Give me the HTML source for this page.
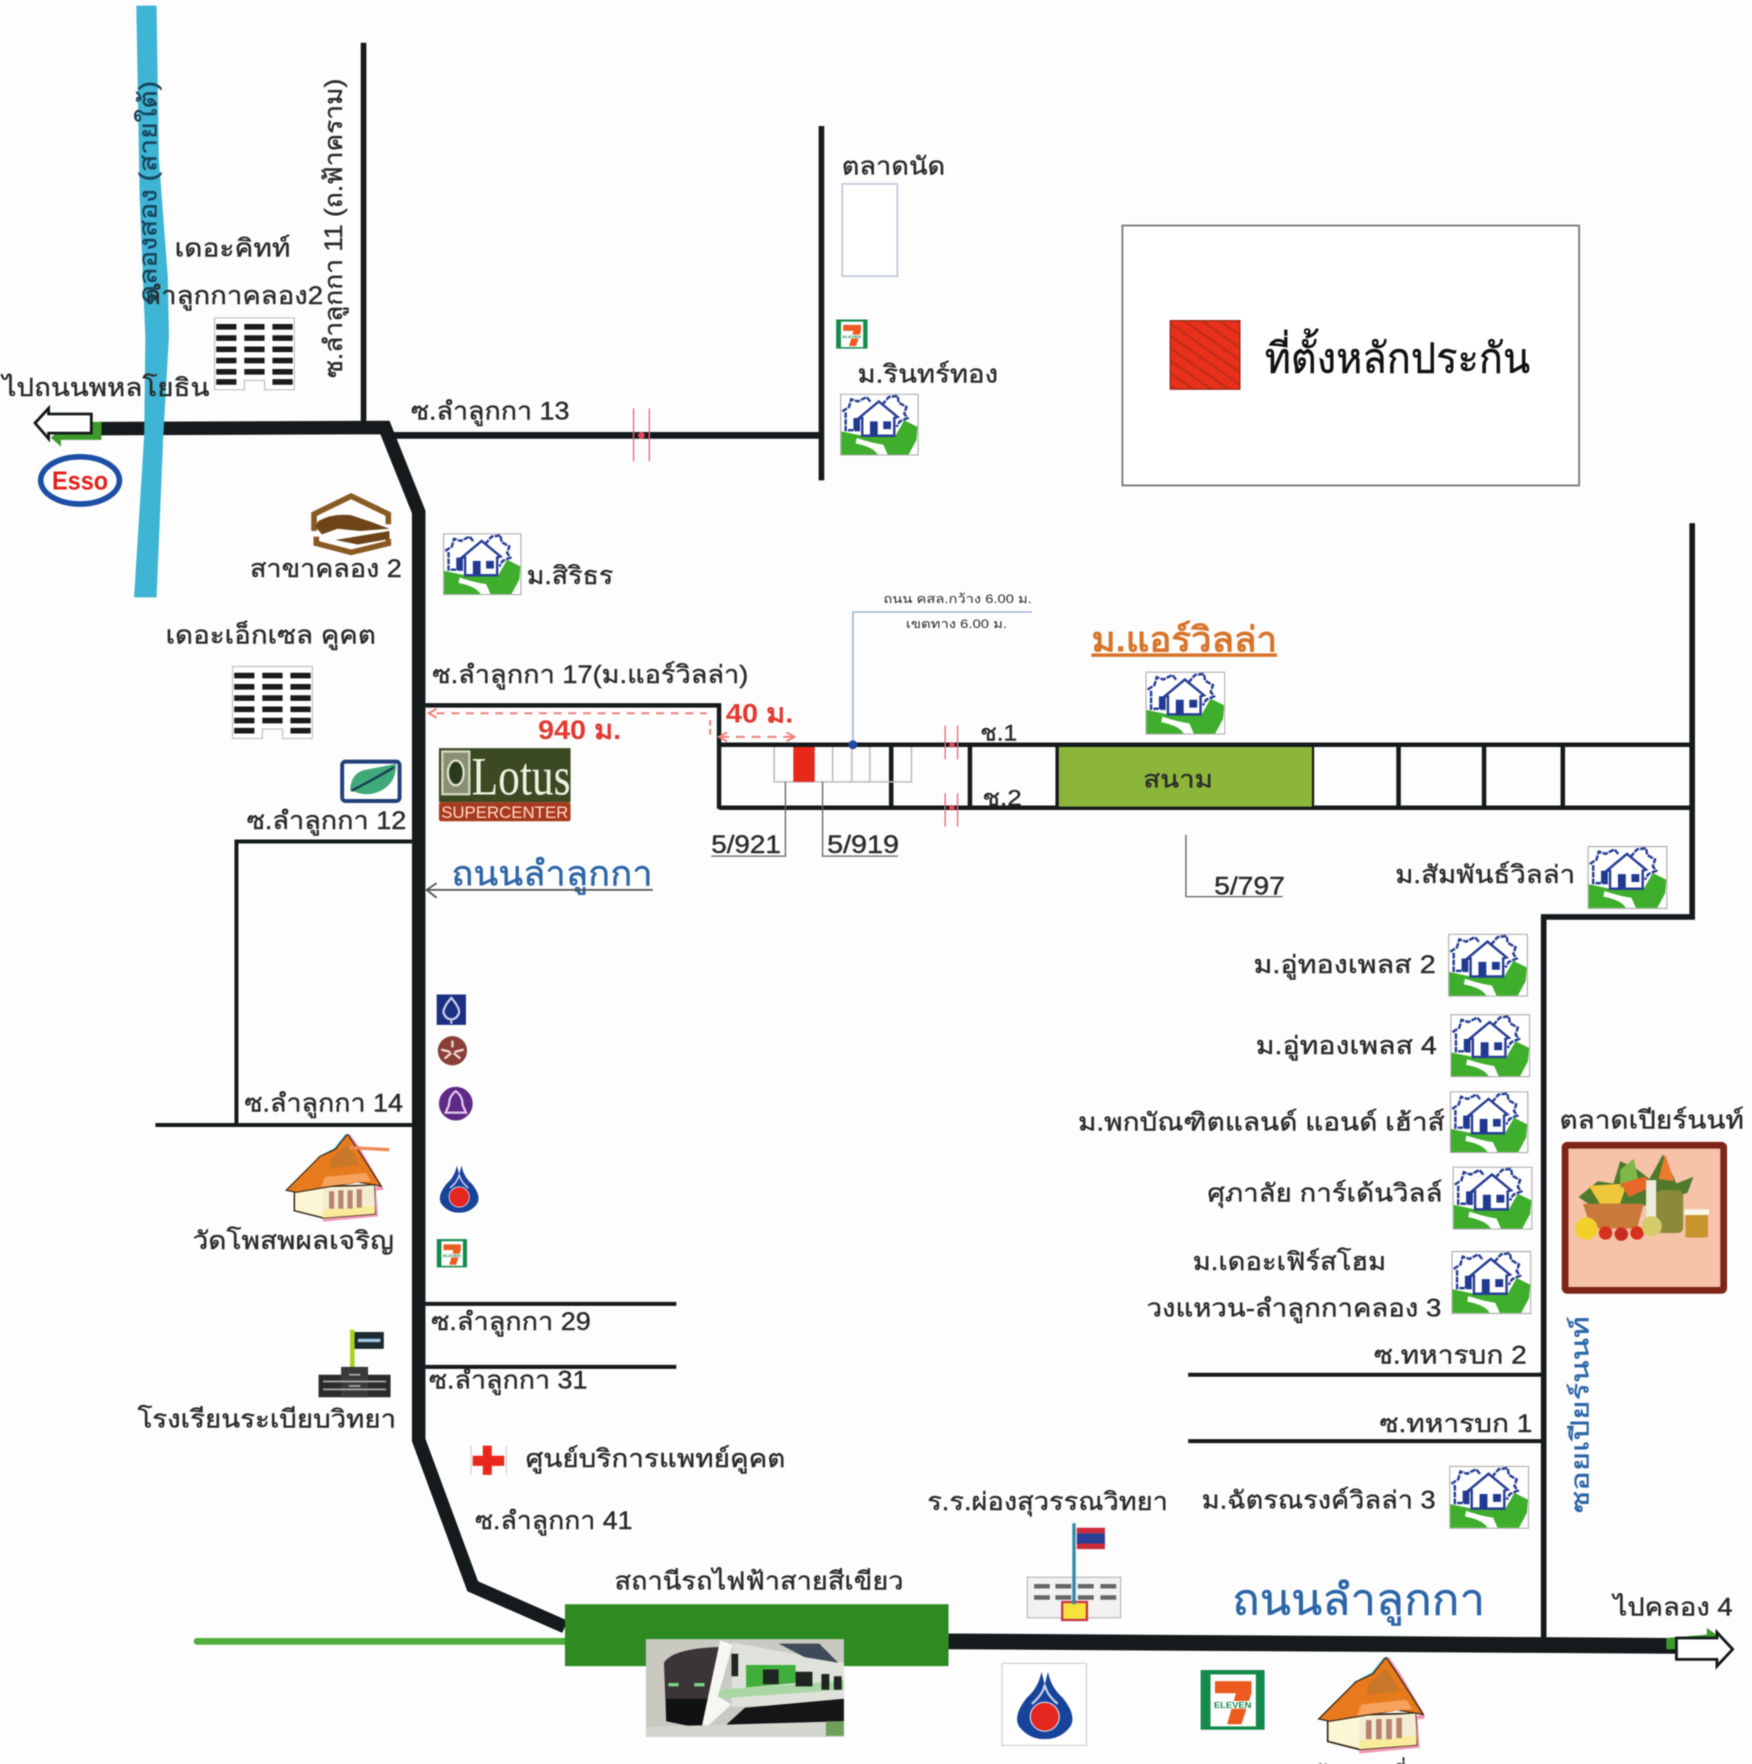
<!DOCTYPE html>
<html lang="th">
<head>
<meta charset="utf-8">
<title>แผนที่ตั้งหลักประกัน</title>
<style>
html,body{margin:0;padding:0;background:#fdfdfd;width:1752px;height:1764px;overflow:hidden}
svg{display:block;filter:blur(.55px)}
text{font-family:"Liberation Sans","DejaVu Sans","Noto Sans CJK SC","WenQuanYi Zen Hei",sans-serif;fill:#2b2b2b;stroke:#2b2b2b;stroke-width:.35px;font-size:22px}
text.b{fill:#2c66a8;stroke:#2c66a8}
text.n{stroke:none}
</style>
</head>
<body>
<svg xmlns="http://www.w3.org/2000/svg" width="1752" height="1764" viewBox="0 0 1557 1568">
<defs>
<pattern id="hatch" width="9" height="9" patternUnits="userSpaceOnUse" patternTransform="rotate(-55)">
<rect width="9" height="9" fill="#e8301a"/><rect width="2" height="9" fill="#c22c1a"/>
</pattern>
<symbol id="house" viewBox="0 0 71 56">
<rect x="0.5" y="0.5" width="70" height="55" fill="#fff" stroke="#a9a9a9"/>
<path d="M1 34 L20 38 L50 38 L58 24 L70 30 L69 42 L62 55 L1 55Z" fill="#3fae2c"/>
<path d="M15 40 Q30 45 39 46 L43 55 L34 55 Q30 48 14 45Z" fill="#fff"/>
<path d="M2 16 L8 12 L10 5 L16 7 L24 3 L28 8 M5 17 V33 H18" fill="none" stroke="#2a3f96" stroke-width="2.2" stroke-dasharray="5 1"/>
<path d="M38 10 L44 3 L52 2 L53 8 L60 12 L58 18 L61 22 L54 25 L51 30" fill="none" stroke="#2a3f96" stroke-width="2.2" stroke-dasharray="5 1"/>
<path d="M20 38 V22 L17 22 L35 7 L52 21 L49 22 V38Z" fill="#fff" stroke="#2a3f96" stroke-width="2.2"/>
<rect x="12" y="22" width="6" height="11" fill="#1f3a90"/>
<rect x="27" y="25" width="7" height="13" fill="#1f3a90"/><rect x="39" y="25" width="7" height="7" fill="#1f3a90"/>
</symbol>
<symbol id="bldg" viewBox="0 0 72 65">
<path d="M0.5 .5H71.5V64.5H45V56H27V64.5H.5Z" fill="#fff" stroke="#bbb"/>
<g fill="#1b1b1b">
<rect x="2" y="6" width="18" height="5"/><rect x="27" y="6" width="18" height="5"/><rect x="52" y="6" width="18" height="5"/>
<rect x="2" y="16" width="18" height="5"/><rect x="27" y="16" width="18" height="5"/><rect x="52" y="16" width="18" height="5"/>
<rect x="2" y="26" width="18" height="5"/><rect x="27" y="26" width="18" height="5"/><rect x="52" y="26" width="18" height="5"/>
<rect x="2" y="36" width="18" height="5"/><rect x="27" y="36" width="18" height="5"/><rect x="52" y="36" width="18" height="5"/>
<rect x="2" y="46" width="18" height="5"/><rect x="27" y="46" width="18" height="5"/><rect x="52" y="46" width="18" height="5"/>
<rect x="2" y="55" width="18" height="5"/><rect x="52" y="55" width="18" height="5"/>
</g>
</symbol>
<symbol id="temple" viewBox="0 0 96 88">
<path d="M8 54 L35 23 L50 15 L61 1" fill="none" stroke="#5ec8e8" stroke-width="3"/>
<path d="M63 1 L73 15 L95 53 L88 54 L90 79 L38 84" fill="none" stroke="#f29ab4" stroke-width="3.5"/>
<path d="M10 52 L88 50 L89 78 L38 82 L10 75Z" fill="#fdf6d4" stroke="#3a2a1a" stroke-width="1.5"/>
<path d="M38 54 L88 50 L89 70 L38 74Z" fill="#f4ecd2"/>
<path d="M38 74 L89 70 L89 78 L38 82Z" fill="#f8eb9a"/>
<g fill="#b8836e"><rect x="44" y="56" width="5" height="17"/><rect x="53" y="55" width="5" height="18"/><rect x="62" y="55" width="5" height="18"/><rect x="71" y="54" width="5" height="18"/></g>
<path d="M2 55 L35 22 L50 15 L62 0 L72 15 L95 51 L72 47 L36 53 L12 57Z" fill="#e87a1e" stroke="#3a2a1a" stroke-width="1.2"/>
<path d="M46 24 L62 10 L74 30 L45 34Z" fill="#c9772a"/>
<path d="M40 42 L80 38 L85 46 L36 52Z" fill="#f6a25a"/>
</symbol>
<symbol id="seven" viewBox="0 0 58 54">
<rect width="58" height="54" fill="#138a4b"/>
<rect x="9" y="4" width="41" height="47" fill="#fff"/>
<path d="M13 10H46V21L37 49H24L32 21H13Z" fill="#ec5a20"/>
<rect x="10" y="28" width="38" height="7" fill="#fff"/>
<text class="n" x="12" y="34.5" style="font-size:7.5px;font-weight:bold;fill:#138a4b" textLength="34" lengthAdjust="spacingAndGlyphs">ELEVEN</text>
</symbol>
<symbol id="ptt" viewBox="0 0 38 42">
<path d="M17 0 Q15 10 8 16 Q-1 27 3 34 Q9 42 19 42 Q29 42 35 34 Q39 27 30 16 Q23 10 21 0 L19 8Z" fill="#18439a"/>
<path d="M19 8 Q18 14 11 20 M19 8 Q20 14 27 20" fill="none" stroke="#c7d0ee" stroke-width="1.4"/>
<circle cx="19" cy="28" r="9" fill="#e5261f" stroke="#c7d0ee" stroke-width=".8"/>
</symbol>
</defs>

<rect width="1557" height="1568" fill="#fdfdfd"/>

<!-- roads -->
<g fill="none" stroke="#151a1c" stroke-linejoin="miter">
<path d="M88 381 L342 380 L372 455 L372 1280 L420 1410 L502 1446" stroke-width="12"/>
<path d="M843 1459 L1490 1463" stroke-width="14"/>
<path d="M323 38 V375" stroke-width="5"/>
<path d="M345 387 H728" stroke-width="6"/>
<path d="M730 112 V427" stroke-width="5"/>
<path d="M378 627 H639 V719" stroke-width="4"/>
<path d="M639 662 H1503" stroke-width="4"/>
<path d="M639 718 H1503" stroke-width="4"/>
<path d="M792 662 V718 M862 662 V718 M940 662 V718 M1166 662 V718 M1243 662 V718 M1319 662 V718 M1389 662 V718" stroke-width="4"/>
<path d="M1504 465 V815 H1372 V1456" stroke-width="5"/>
<path d="M366 748 H210 V1000 M138 1000 H366" stroke-width="3.5"/>
<path d="M378 1159 H601 M378 1215 H601" stroke-width="3.5"/>
<path d="M1056 1222 H1372 M1056 1281 H1372" stroke-width="3.5"/>
</g>

<!-- canal -->
<polygon points="121,5 139,5 141,140 149,246 150,299 145,387 139,531 119,531 128,387 129,299 124,176" fill="#3fb5d5"/>

<!-- green rail -->
<path d="M175 1459 H502" stroke="#4faf3a" stroke-width="6" stroke-linecap="round"/>
<rect x="502" y="1426" width="341" height="55" fill="#2e8b22"/>

<!-- arrows -->
<path d="M90 375 V391 L54 391 V397 L45 389 L54 382 L82 382 V375Z" fill="#3d9a2b"/>
<path d="M31 376 L43 363 V368 H81 V385 H43 V390Z" fill="#fff" stroke="#151a1c" stroke-width="2.5"/>
<path d="M1481 1466 V1456 L1517 1453 V1447 L1528 1455 L1522 1466Z" fill="#3d9a2b"/>
<path d="M1490 1456 H1526 V1451 L1540 1466 L1526 1481 V1475 H1490Z" fill="#fff" stroke="#151a1c" stroke-width="2.5"/>

<!-- red ticks -->
<g stroke="#ea6a7c" stroke-width="1.2" fill="none">
<path d="M563 363 V410 M577 363 V410"/>
<path d="M840 645 V675 M851 645 V675 M840 705 V735 M851 705 V735"/>
</g>
<circle cx="570" cy="387" r="3" fill="#e8455a"/>
<circle cx="846" cy="662" r="2.5" fill="#e8455a"/><circle cx="846" cy="718" r="2.5" fill="#e8455a"/>

<!-- legend -->
<rect x="997.5" y="200.5" width="406" height="231" fill="#fff" stroke="#777" stroke-width="1.6"/>
<rect x="1040" y="285" width="62" height="61" fill="url(#hatch)" stroke="#8f2414"/>
<text x="1124" y="331" textLength="236" lengthAdjust="spacingAndGlyphs" style="font-family:'Liberation Serif','DejaVu Sans','Noto Serif CJK SC',serif;font-size:37px;fill:#111;stroke:#111">ที่ตั้งหลักประกัน</text>

<!-- market box -->
<rect x="748.5" y="163.5" width="49" height="82" fill="#fff" stroke="#bcc8d8" stroke-width="1.5"/>

<!-- plots -->
<g stroke="#bdbdbd" stroke-width="1.4" fill="none">
<path d="M688 664 V695 H810 V664 M740 664 V695 M757 664 V695 M773 664 V695"/>
</g>
<rect x="705" y="664" width="19" height="31" fill="#e8281a"/>
<rect x="941" y="664" width="225" height="53" fill="#8cb63a"/>
<text x="1016" y="700" style="font-size:21px" textLength="62" lengthAdjust="spacingAndGlyphs">สนาม</text>

<!-- leaders -->
<g stroke="#666" stroke-width="1.2" fill="none">
<path d="M698 695 V761 H632"/>
<path d="M731 695 V761 H798"/>
<path d="M1054 742 V797 H1140"/>
</g>
<path d="M758 662 V544 H917" stroke="#8fa9cf" stroke-width="1.2" fill="none"/>
<circle cx="758" cy="662" r="4" fill="#1f4aa8"/>

<!-- red dims -->
<g stroke="#f08080" stroke-width="1.8" fill="none">
<path d="M388 634 H628" stroke-dasharray="7 6"/>
<path d="M388 630 L381 634 L388 638"/>
<path d="M631 640 V654" stroke-dasharray="5 3"/>
<path d="M640 655 H704" stroke-dasharray="8 6"/>
<path d="M646 651 L639 655 L646 659 M699 651 L706 655 L699 659"/>
</g>
<text class="n" x="478" y="657" style="font-size:24px;fill:#e23a32;font-weight:bold" textLength="74" lengthAdjust="spacingAndGlyphs">940 ม.</text>
<text class="n" x="645" y="642" style="font-size:24px;fill:#e23a32;font-weight:bold" textLength="60" lengthAdjust="spacingAndGlyphs">40 ม.</text>

<!-- icons -->
<use href="#house" x="746" y="350" width="71" height="55"/>
<use href="#house" x="393" y="474" width="71" height="55"/>
<use href="#house" x="1018" y="597" width="71" height="56"/>
<use href="#house" x="1411" y="752" width="71" height="56"/>
<use href="#house" x="1287" y="830" width="71" height="56"/>
<use href="#house" x="1289" y="901" width="71" height="57"/>
<use href="#house" x="1288" y="970" width="71" height="55"/>
<use href="#house" x="1291" y="1037" width="71" height="56"/>
<use href="#house" x="1290" y="1112" width="71" height="56"/>
<use href="#house" x="1288" y="1303" width="71" height="56"/>
<use href="#bldg" x="190" y="282" width="72" height="65"/>
<use href="#bldg" x="206" y="592" width="72" height="65"/>
<use href="#seven" x="743" y="284" width="28" height="26"/>
<use href="#seven" x="388" y="1100" width="27" height="28"/>
<use href="#seven" x="1067" y="1484" width="57" height="54"/>
<use href="#temple" x="248" y="1008" width="96" height="80"/>
<path d="M310 1020 L346 1022" stroke="#ef8a5a" stroke-width="3"/>
<use href="#temple" x="1170" y="1473" width="96" height="88"/>
<use href="#ptt" x="389" y="1036" width="38" height="42"/>

<!-- PTT boxed -->
<rect x="890.5" y="1478.5" width="75" height="73" fill="#fff" stroke="#ccc"/>
<use href="#ptt" x="901" y="1486" width="55" height="60"/>

<!-- Esso -->
<ellipse cx="71" cy="427" rx="35" ry="21" fill="#fff" stroke="#1c4fa5" stroke-width="5"/>
<text class="n" x="46" y="435" style="font-size:23px;font-weight:bold;fill:#e2231a" textLength="50" lengthAdjust="spacingAndGlyphs">Esso</text>

<!-- branch logo -->
<path d="M279 472 V457 L312 441 L345 457 V466 M345 479 V483 L312 491 L281 483 V477" fill="none" stroke="#8a5a24" stroke-width="5"/>
<path d="M283 463 Q296 456 312 458 L330 464 L346 470 L320 472 L300 470 L286 475 L280 468Z" fill="#6e4519"/>
<path d="M298 480 L346 472 V479 L318 484Z" fill="#6e4519"/>

<!-- leaf -->
<rect x="304" y="677" width="51" height="35" rx="3" fill="#fff" stroke="#23407a" stroke-width="3.5"/>
<path d="M311 702 Q312 686 326 684 L352 679 Q352 695 340 702 Q326 710 311 702Z" fill="#3fa97a"/>
<path d="M312 703 Q330 694 350 682" stroke="#163a50" stroke-width="2" fill="none"/>

<!-- Lotus -->
<rect x="390" y="665" width="117" height="48" fill="#3b4a22"/>
<rect x="390" y="713" width="117" height="17" rx="2" fill="#a83a1e"/>
<rect x="393" y="668" width="24" height="38" fill="#8a8f72" stroke="#d5d7c5" stroke-width="2"/>
<ellipse cx="405" cy="687" rx="7" ry="11" fill="#2a3a1c" stroke="#dfe1cf" stroke-width="2"/>
<text class="n" x="419" y="706" style="font-family:'Liberation Serif',serif;font-size:48px;fill:#eef0e4" textLength="88" lengthAdjust="spacingAndGlyphs">Lotus</text>
<text class="n" x="392" y="727" style="font-size:15px;fill:#ffd9c8" textLength="113" lengthAdjust="spacingAndGlyphs">SUPERCENTER</text>

<!-- banks -->
<rect x="388" y="884" width="26" height="27" fill="#1c2f80"/>
<path d="M401 887 Q408 895 408 900 Q406 906 401 906 Q396 906 394 900 Q394 895 401 887Z M401 906 V910" fill="none" stroke="#c9cdea" stroke-width="2"/>
<circle cx="402" cy="934" r="13" fill="#8a3f38"/>
<path d="M402 925 V931 M392 933 L400 935 M412 933 L404 935 M395 941 L401 936 M409 941 L403 936" stroke="#f2dcd2" stroke-width="2"/>
<circle cx="405" cy="981" r="15" fill="#5f2a86"/>
<path d="M405 970 Q411 974 411 982 L414 989 H396 L399 982 Q399 974 405 970Z" fill="#5f2a86" stroke="#e0c9ee" stroke-width="2"/>

<!-- school left -->
<rect x="311" y="1182" width="4" height="36" fill="#a4d41c"/>
<rect x="315" y="1184" width="26" height="15" fill="#1d2a30"/><rect x="318" y="1190" width="20" height="3" fill="#9fc5e8"/>
<rect x="283" y="1222" width="64" height="20" fill="#2b2b2b"/>
<rect x="303" y="1215" width="24" height="27" fill="#3a3a3a"/>
<path d="M287 1228H343M287 1235H343M310 1222H320M310 1232H320" stroke="#aaa" stroke-width="1.5"/>

<!-- red cross -->
<path d="M418.5 1285 V1311 M450 1285 V1311" stroke="#ccc" stroke-width="1"/>
<path d="M429 1285 H437 V1294 H448 V1303 H437 V1311 H429 V1303 H420 V1294 H429Z" fill="#e8281a"/>

<!-- school 2 -->
<rect x="913" y="1402" width="83" height="36" fill="#f2f2f2" stroke="#b5b5b5"/>
<g fill="#666"><rect x="919" y="1408" width="14" height="4"/><rect x="938" y="1408" width="14" height="4"/><rect x="958" y="1408" width="14" height="4"/><rect x="978" y="1408" width="14" height="4"/>
<rect x="919" y="1418" width="14" height="4"/><rect x="938" y="1418" width="14" height="4"/><rect x="958" y="1418" width="14" height="4"/><rect x="978" y="1418" width="14" height="4"/></g>
<rect x="944" y="1424" width="22" height="16" fill="#f5e23a" stroke="#c8324a" stroke-width="2"/>
<rect x="953" y="1354" width="3" height="72" fill="#2f8ca8"/>
<rect x="957" y="1358" width="25" height="5" fill="#cc2a3a"/><rect x="957" y="1363" width="25" height="9" fill="#2a3f96"/><rect x="957" y="1372" width="25" height="5" fill="#cc2a3a"/>

<!-- train -->
<rect x="574" y="1457" width="176" height="87" fill="#c9c9c2"/>
<path d="M590 1478 Q598 1465 640 1464 L628 1536 L592 1530Z" fill="#3b3537"/>
<path d="M592 1510 L632 1510 L626 1537 L592 1530Z" fill="#101112"/>
<path d="M594 1496 H603 V1499 H594Z M617 1496 H626 V1499 H617Z" fill="#7fd48a"/>
<path d="M651 1460 L750 1478 V1515 L650 1517Z" fill="#dfe2db"/>
<path d="M692 1461 H728 L745 1478 L715 1473Z" fill="#3f4a58"/>
<path d="M663 1480 H707 V1496 L663 1500Z" fill="#3fae3a"/>
<path d="M638 1502 L750 1494 V1502 L636 1510Z" fill="#a9d6a4"/>
<g fill="#1f2622"><rect x="650" y="1470" width="6" height="20"/><rect x="678" y="1484" width="14" height="13"/><rect x="707" y="1486" width="15" height="13"/><rect x="730" y="1488" width="7" height="14"/><rect x="741" y="1490" width="7" height="12"/></g>
<path d="M640 1458 L651 1462 L638 1508 L650 1515 L627 1536 L624 1533Z" fill="#f6f7f3"/>
<path d="M662 1518 L750 1510 V1530 L640 1538Z" fill="#141516"/>
<path d="M574 1535 L750 1530 V1544 H574Z" fill="#d3d5cf"/>
<rect x="734" y="1530" width="16" height="13" fill="#6fa05a"/>

<!-- market picture -->
<rect x="1391" y="1018" width="141" height="129" rx="2" fill="#f6c3a8" stroke="#7e2418" stroke-width="6"/>
<path d="M1403 1064 L1420 1050 L1434 1052 L1440 1032 L1456 1040 L1466 1048 L1478 1026 L1490 1052 L1505 1046 L1500 1060 L1476 1070 L1420 1076Z" fill="#4f7a2c"/>
<path d="M1412 1054 L1422 1070 H1440 L1446 1052Z" fill="#efc73a"/>
<path d="M1440 1040 L1452 1030 L1456 1048 L1440 1056Z" fill="#7fb84a"/>
<path d="M1440 1052 L1462 1046 L1470 1054 L1448 1064Z" fill="#e8682a"/>
<path d="M1474 1048 L1480 1026 L1488 1050Z" fill="#ee7a2e"/>
<path d="M1407 1070 H1461 L1455 1092 H1414Z" fill="#c8793a"/>
<rect x="1463" y="1049" width="9" height="34" fill="#ecebdc"/>
<rect x="1472" y="1058" width="24" height="38" rx="5" fill="#8a8a3a"/>
<rect x="1498" y="1078" width="20" height="22" fill="#c8942e"/><rect x="1497" y="1075" width="22" height="5" fill="#fbf6e6"/>
<circle cx="1410" cy="1092" r="10" fill="#f2d02a"/>
<circle cx="1427" cy="1096" r="6" fill="#d8321e"/><circle cx="1441" cy="1097" r="6" fill="#c62e22"/><circle cx="1455" cy="1096" r="6" fill="#d8321e"/>
<circle cx="1468" cy="1090" r="9" fill="#d4cc6a"/>

<!-- labels -->
<text x="748" y="155" textLength="92" lengthAdjust="spacingAndGlyphs">ตลาดนัด</text>
<text x="155" y="228" textLength="103" lengthAdjust="spacingAndGlyphs">เดอะคิทท์</text>
<text x="128" y="270" textLength="159" lengthAdjust="spacingAndGlyphs">ลำลูกกาคลอง2</text>
<text x="2" y="352" textLength="184" lengthAdjust="spacingAndGlyphs">ไปถนนพหลโยธิน</text>
<text x="365" y="373" textLength="141" lengthAdjust="spacingAndGlyphs">ซ.ลำลูกกา 13</text>
<text x="762" y="340" textLength="125" lengthAdjust="spacingAndGlyphs">ม.รินทร์ทอง</text>
<text x="222" y="513" textLength="135" lengthAdjust="spacingAndGlyphs">สาขาคลอง 2</text>
<text x="468" y="519" textLength="77" lengthAdjust="spacingAndGlyphs">ม.สิริธร</text>
<text x="147" y="572" textLength="187" lengthAdjust="spacingAndGlyphs">เดอะเอ็กเซล คูคต</text>
<text x="384" y="607" textLength="281" lengthAdjust="spacingAndGlyphs">ซ.ลำลูกกา 17(ม.แอร์วิลล่า)</text>
<text x="970" y="579" style="font-size:31px;font-weight:bold;fill:#d8742a;stroke:none;text-decoration:underline" textLength="165" lengthAdjust="spacingAndGlyphs">ม.แอร์วิลล่า</text>
<text x="219" y="737" textLength="142" lengthAdjust="spacingAndGlyphs">ซ.ลำลูกกา 12</text>
<text x="871" y="658" style="font-size:20px" textLength="33" lengthAdjust="spacingAndGlyphs">ช.1</text>
<text x="873" y="716" style="font-size:20px" textLength="35" lengthAdjust="spacingAndGlyphs">ช.2</text>
<text x="632" y="758" textLength="62" lengthAdjust="spacingAndGlyphs">5/921</text>
<text x="735" y="758" textLength="64" lengthAdjust="spacingAndGlyphs">5/919</text>
<text x="1079" y="795" textLength="63" lengthAdjust="spacingAndGlyphs">5/797</text>
<text class="n" x="785" y="536" style="font-size:11px" textLength="132" lengthAdjust="spacingAndGlyphs">ถนน คสล.กว้าง 6.00 ม.</text>
<text class="n" x="805" y="558" style="font-size:11px" textLength="90" lengthAdjust="spacingAndGlyphs">เขตทาง 6.00 ม.</text>
<text class="b" x="401" y="787" style="font-size:31px" textLength="179" lengthAdjust="spacingAndGlyphs">ถนนลำลูกกา</text>
<path d="M380 791 H580 M388 785 L379 791 L388 798" stroke="#555" stroke-width="1.6" fill="none"/>
<text x="1240" y="785" textLength="160" lengthAdjust="spacingAndGlyphs">ม.สัมพันธ์วิลล่า</text>
<text x="1114" y="865" textLength="162" lengthAdjust="spacingAndGlyphs">ม.อู่ทองเพลส 2</text>
<text x="1116" y="937" textLength="161" lengthAdjust="spacingAndGlyphs">ม.อู่ทองเพลส 4</text>
<text x="958" y="1005" textLength="326" lengthAdjust="spacingAndGlyphs">ม.พกบัณฑิตแลนด์ แอนด์ เฮ้าส์</text>
<text x="1386" y="1003" textLength="164" lengthAdjust="spacingAndGlyphs">ตลาดเปียร์นนท์</text>
<text x="1073" y="1068" textLength="209" lengthAdjust="spacingAndGlyphs">ศุภาลัย การ์เด้นวิลล์</text>
<text x="1060" y="1129" textLength="172" lengthAdjust="spacingAndGlyphs">ม.เดอะเฟิร์สโฮม</text>
<text x="1019" y="1170" textLength="262" lengthAdjust="spacingAndGlyphs">วงแหวน-ลำลูกกาคลอง 3</text>
<text x="217" y="988" textLength="141" lengthAdjust="spacingAndGlyphs">ซ.ลำลูกกา 14</text>
<text x="171" y="1110" textLength="179" lengthAdjust="spacingAndGlyphs">วัดโพสพผลเจริญ</text>
<text x="383" y="1182" textLength="142" lengthAdjust="spacingAndGlyphs">ซ.ลำลูกกา 29</text>
<text x="381" y="1234" textLength="141" lengthAdjust="spacingAndGlyphs">ซ.ลำลูกกา 31</text>
<text x="122" y="1269" textLength="230" lengthAdjust="spacingAndGlyphs">โรงเรียนระเบียบวิทยา</text>
<text x="467" y="1304" textLength="231" lengthAdjust="spacingAndGlyphs">ศูนย์บริการแพทย์คูคต</text>
<text x="422" y="1359" textLength="140" lengthAdjust="spacingAndGlyphs">ซ.ลำลูกกา 41</text>
<text x="546" y="1413" textLength="257" lengthAdjust="spacingAndGlyphs">สถานีรถไฟฟ้าสายสีเขียว</text>
<text x="824" y="1342" textLength="214" lengthAdjust="spacingAndGlyphs">ร.ร.ผ่องสุวรรณวิทยา</text>
<text x="1068" y="1341" textLength="208" lengthAdjust="spacingAndGlyphs">ม.ฉัตรณรงค์วิลล่า 3</text>
<text class="b" x="1095" y="1435" style="font-size:38px" textLength="225" lengthAdjust="spacingAndGlyphs">ถนนลำลูกกา</text>
<text x="1221" y="1212" textLength="136" lengthAdjust="spacingAndGlyphs">ซ.ทหารบก 2</text>
<text x="1226" y="1273" textLength="136" lengthAdjust="spacingAndGlyphs">ซ.ทหารบก 1</text>
<text x="1434" y="1436" textLength="106" lengthAdjust="spacingAndGlyphs">ไปคลอง 4</text>
<text x="1168" y="1585" textLength="82" lengthAdjust="spacingAndGlyphs">วัดคลองสี่</text>

<!-- rotated labels -->
<text transform="translate(139 270) rotate(-90)" style="fill:#17465c;stroke:#17465c" textLength="198" lengthAdjust="spacingAndGlyphs">คลองสอง (สายใต้)</text>
<text transform="translate(304 336) rotate(-90)" textLength="266" lengthAdjust="spacingAndGlyphs">ซ.ลำลูกกา 11 (ถ.ฟ้าคราม)</text>
<text class="b" transform="translate(1412 1345) rotate(-90)" textLength="175" lengthAdjust="spacingAndGlyphs">ซอยเปียร์นนท์</text>
</svg>
</body>
</html>
